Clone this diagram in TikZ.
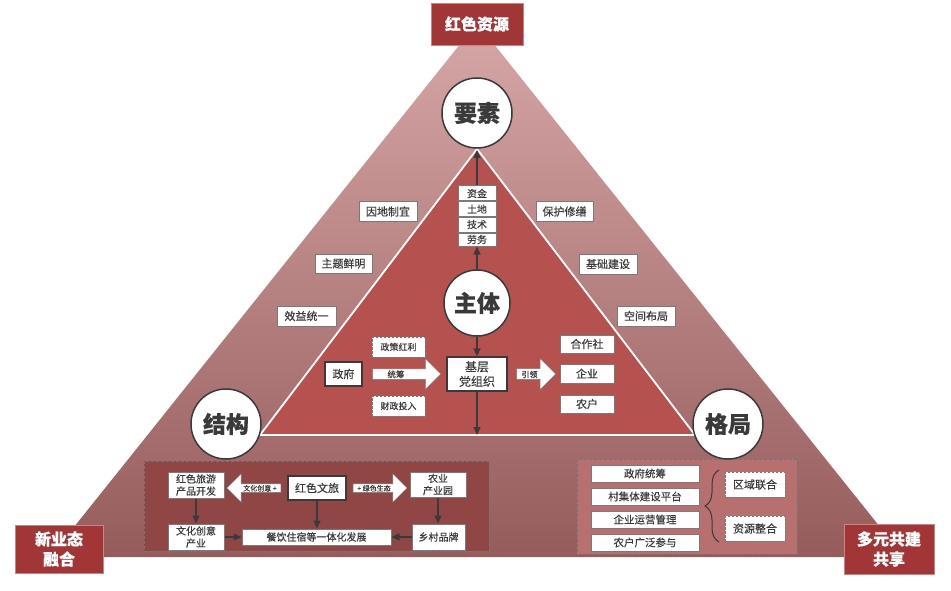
\documentclass[tikz,border=0pt]{standalone}
\usepackage{fontspec}
\setmainfont{Noto Sans CJK SC}[FakeBold=0.3]
\usetikzlibrary{arrows.meta,shapes.arrows,decorations.pathreplacing}
\definecolor{brick}{HTML}{A23636}
\definecolor{innerred}{HTML}{B55250}
\definecolor{panelL}{HTML}{914646}
\definecolor{panelR}{HTML}{B76F6F}
\definecolor{ink}{HTML}{3A3A3A}
\definecolor{edge}{HTML}{7A7A7A}
\definecolor{outertop}{HTML}{D6A6A6}
\definecolor{outerbottom}{HTML}{965C5C}
\newcommand{\fsz}[1]{\fontsize{#1pt}{1.22\dimexpr#1pt\relax}\selectfont}
\tikzset{
  base/.style={inner sep=0pt,align=center,text=ink,font=\fsz{#1}},
  base/.default=11,
  whitebox/.style={base=#1,fill=white,draw=edge,line width=1pt},
  whitebox/.default=11,
  darkbox/.style={base=#1,fill=white,draw=ink,line width=1.3pt},
  darkbox/.default=11,
  dashbox/.style={base=#1,fill=white,draw=edge,line width=1pt,dash pattern=on 2.5pt off 1.5pt},
  dashbox/.default=11,
  redbox/.style={inner sep=0pt,align=center,text=white,fill=brick,draw=brick!60!white,line width=.7pt,font=\fontsize{16pt}{20pt}\selectfont\bfseries},
  ball/.style={circle,inner sep=0pt,fill=white,draw=ink,line width=1.5pt,minimum size=#1,text=ink,font=\fontsize{23pt}{26pt}\selectfont\bfseries},
  link/.style={draw=ink,line width=1.3pt,-{Triangle[length=8pt,width=7pt]}},
  fatarrow/.style={single arrow,single arrow head extend=#1,single arrow head indent=0pt,fill=white,draw=edge,line width=.5pt,inner sep=0pt,text=ink,align=center},
}
% \bx{name}{style}{x1}{y1}{x2}{y2}{text}
\newcommand{\bx}[7]{\node[#2,minimum width={(#5-#3)*1pt},minimum height={(#6-#4)*1pt}] (#1) at ({(#3+#5)/2},{(#4+#6)/2}) {#7};}
\begin{document}
\begin{tikzpicture}[x=1pt,y=-1pt]
\useasboundingbox (0,0) rectangle (951,591);
% outer triangle
\shade[top color=outertop,bottom color=outerbottom]
  (477,23) -- (904,557) -- (50,557) -- cycle;
% inner triangle
\fill[innerred,draw=white,line width=1.8pt,line join=miter] (477,149) -- (695,435) -- (260,435) -- cycle;
% panels
\bx{panelleft}{fill=panelL,draw=ink!70,line width=.7pt,dash pattern=on 3pt off 2pt}{144}{461}{489}{551}{}
\bx{panelright}{fill=panelR,draw=ink!70,line width=.7pt,dash pattern=on 3pt off 2pt}{577}{459}{797}{554}{}
% corner labels
\bx{res}{redbox}{431}{3}{523}{45}{红色资源}
\bx{newbiz}{redbox}{15}{525}{103}{573}{新业态\\融合}
\bx{multi}{redbox}{844}{524}{934}{574}{多元共建\\共享}
% circles
\node[ball=70pt] (yaosu) at (477,113) {要素};
\node[ball=66pt] (zhuti) at (477,303) {主体};
\node[ball=70pt] (jiegou) at (226,424) {结构};
\node[ball=70pt] (geju) at (728,424) {格局};
% side labels
\bx{a1}{whitebox}{359}{202}{417}{221}{因地制宜}
\bx{a2}{whitebox}{315}{254}{372}{273}{主题鲜明}
\bx{a3}{whitebox}{277}{306}{336}{326}{效益统一}
\bx{b1}{whitebox}{536}{202}{593}{221}{保护修缮}
\bx{b2}{whitebox}{579}{254}{637}{274}{基础建设}
\bx{b3}{whitebox}{617}{306}{675}{326}{空间布局}
% factor stack
\bx{zijin}{whitebox=10}{458}{186}{496}{201}{资金}
\bx{tudi}{whitebox=10}{458}{202}{496}{216}{土地}
\bx{jishu}{whitebox=10}{458}{217}{496}{232}{技术}
\bx{laowu}{whitebox=10}{458}{233}{496}{246}{劳务}
% inner triangle content
\bx{zhengce}{dashbox=9}{372}{337}{425}{357}{政策红利}
\bx{caizheng}{dashbox=9}{372}{396}{425}{416}{财政投入}
\bx{zhengfu}{darkbox}{325}{362}{362}{386}{政府}
\bx{jiceng}{darkbox=12}{447}{357}{507}{391}{基层\\党组织}
\bx{hezuo}{whitebox}{560}{335}{614}{353}{合作社}
\bx{qiye}{whitebox}{560}{364}{614}{383}{企业}
\bx{nonghu}{whitebox}{560}{395}{614}{413}{农户}
\node[fatarrow=10pt,minimum height=68pt,minimum width=30pt,font=\fontsize{8.5pt}{10pt}\selectfont,text height=8.5pt,text depth=1.5pt] (tongchou) at (404,374) {\hspace*{-16pt}统筹};
\node[fatarrow=10pt,minimum height=39pt,minimum width=31pt,font=\fontsize{8pt}{9pt}\selectfont,text height=8.5pt,text depth=1.5pt] (yinling) at (533.5,374) {\hspace*{-8pt}引领};
\coordinate (basepoint) at (477,435);
\draw[link] (zhuti.north) -- (laowu.south);
\draw[link] (zijin.north) -- (477,150);
\draw[link] (zhuti.south) -- (jiceng.north);
\draw[link] (jiceng.south) -- (basepoint);
% left panel
\bx{hongse}{whitebox=10}{168}{472}{224}{498}{红色旅游\\产品开发}
\bx{wenchuang}{whitebox=10}{168}{524}{224}{550}{文化创意\\产业}
\bx{wenlv}{darkbox}{288}{476}{346}{500}{红色文旅}
\bx{nongye}{whitebox=10}{410}{472}{466}{497}{农业\\产业园}
\bx{xiangcun}{whitebox=10}{412}{524}{465}{550}{乡村品牌}
\bx{canyin}{whitebox=10}{242}{529}{391}{545}{餐饮住宿等一体化发展}
\node[fatarrow=10pt,shape border rotate=180,minimum height=54pt,minimum width=28pt,font=\fontsize{7pt}{8pt}\selectfont,text height=7pt,text depth=1pt] (wenhua) at (256,488) {\hspace*{8pt}文化创意 +};
\node[fatarrow=10pt,minimum height=54pt,minimum width=28pt,font=\fontsize{7pt}{8pt}\selectfont,text height=7pt,text depth=1pt] (lvse) at (378,488) {\hspace*{-8pt}+ 绿色生态};
\draw[link] (hongse.south) -- (wenchuang.north);
\draw[link] (wenlv.south) -- (wenlv.south |- canyin.north);
\draw[link] (nongye.south) -- (nongye.south |- xiangcun.north);
\draw[link] (wenchuang.east |- canyin.west) -- (canyin.west);
\draw[link] (xiangcun.west |- canyin.east) -- (canyin.east);
% right panel
\bx{r1}{whitebox=10.5}{591}{465}{699}{482}{政府统筹}
\bx{r2}{whitebox=10.5}{591}{488}{699}{505}{村集体建设平台}
\bx{r3}{whitebox=10.5}{591}{511}{699}{528}{企业运营管理}
\bx{r4}{whitebox=10.5}{591}{534}{699}{551}{农户广泛参与}
\bx{quyu}{dashbox=11}{725}{472}{785}{497}{区域联合}
\bx{ziyuan}{dashbox=11}{725}{516}{785}{541}{资源整合}
\draw[ink,line width=1pt,decorate,decoration={brace,amplitude=14pt,mirror}] (719,470) -- (719,542);
\end{tikzpicture}
\end{document}
